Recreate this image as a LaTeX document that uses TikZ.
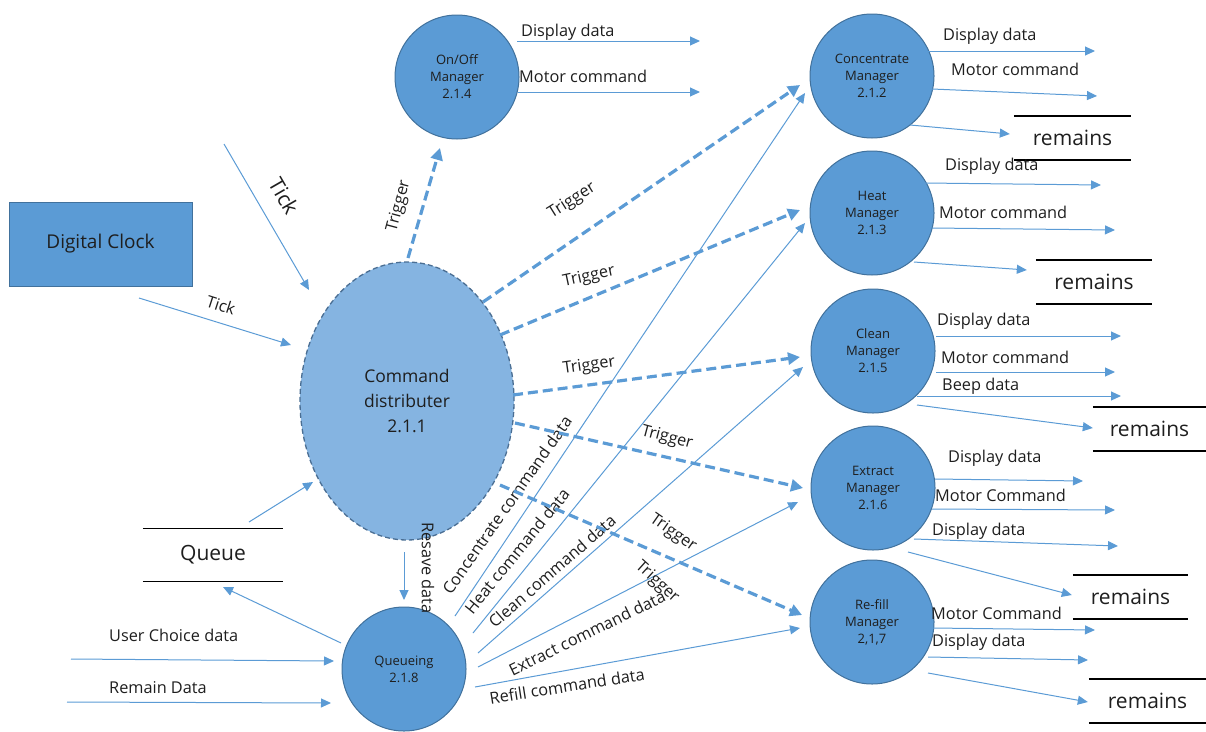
\documentclass[tikz,border=0pt]{standalone}
\usepackage{fontspec}
\setmainfont{Open Sans}
\usetikzlibrary{arrows.meta,shapes.geometric,calc}
\definecolor{cfill}{HTML}{5B9BD5}
\definecolor{cborder}{HTML}{41719C}
\definecolor{cdfill}{HTML}{85B4E1}
\definecolor{cdborder}{HTML}{4A6E93}
\definecolor{arr}{HTML}{5B9BD5}
\definecolor{txt}{HTML}{1E1E1E}
\begin{document}
\begin{tikzpicture}[x=1pt,y=-1pt,text=txt,
  proc/.style={circle, draw=cborder, line width=1pt, fill=cfill, minimum size=124pt, inner sep=0pt, align=center, font=\fontsize{13}{17}\selectfont},
  flow/.style={draw=arr, line width=1pt, -{Triangle[length=10pt,width=9pt]}},
  trig/.style={draw=arr, line width=3.2pt, dash pattern=on 10pt off 5pt, -{Triangle[length=12pt,width=12pt]}},
  lbl/.style={inner sep=0pt, font=\fontsize{16.3}{19}\selectfont},
  store/.style={minimum height=44pt, inner sep=0pt, font=\fontsize{21}{24}\selectfont},
  storeline/.style={draw=black, line width=1.5pt}]
\useasboundingbox (0,0) rectangle (1206,731);

% processes
\node[proc] (oo) at (457,77) {On/Off\\Manager\\2.1.4};
\node[proc] (cm) at (872,76) {Concentrate\\Manager\\2.1.2};
\node[proc] (hm) at (872,213) {Heat\\Manager\\2.1.3};
\node[proc] (clm) at (873,351) {Clean\\Manager\\2.1.5};
\node[proc] (em) at (873,488) {Extract\\Manager\\2.1.6};
\node[proc] (rm) at (872,622) {Re-fill\\Manager\\2,1,7};
\node[proc] (qn) at (404,669) {Queueing\\2.1.8};
\node[ellipse, draw=cdborder, dash pattern=on 5pt off 3pt, line width=1.3pt, fill=cdfill,
  minimum width=214pt, minimum height=278pt, inner sep=0pt, align=center,
  font=\fontsize{17.5}{25}\selectfont] (cd) at (407,401) {Command\\distributer\\2.1.1};
\node[rectangle, draw=cborder, fill=cfill, line width=1pt, minimum width=183pt, minimum height=84pt,
  font=\fontsize{19}{22}\selectfont] (dc) at (100.5,244) {Digital Clock};

% stores
\node[store, minimum width=140pt, minimum height=53pt] (qs) at (213,555) {Queue};
\node[store, minimum width=117pt] (r1) at (1072.5,138) {remains};
\node[store, minimum width=116pt] (r2) at (1094,282) {remains};
\node[store, minimum width=113pt] (r3) at (1149.5,429) {remains};
\node[store, minimum width=115pt] (r4) at (1130.5,597) {remains};
\node[store, minimum width=117pt] (r5) at (1147.5,701) {remains};
\foreach \s in {qs,r1,r2,r3,r4,r5}
  \draw[storeline] (\s.north west) -- (\s.north east) (\s.south west) -- (\s.south east);

% On/Off outputs
\coordinate (o1) at (700,41);
\coordinate (o2) at (700,92);
\draw[flow] ($(oo)+(60,-36)$) -- (o1);
\draw[flow] ($(oo)+(61,15)$) -- (o2);
\node[lbl, anchor=base west] (lo1) at (521,36) {Display data};
\node[lbl, anchor=base west] (lo2) at (519,82) {Motor command};

% Concentrate outputs
\coordinate (c1) at (1095,51);
\coordinate (c2) at (1097,96);
\draw[flow] ($(cm)+(56,-25)$) -- (c1);
\draw[flow] ($(cm)+(60,13)$) -- (c2);
\draw[flow] ($(cm)+(38,49)$) -- ($(r1.west)+(-4,-4)$);
\node[lbl, anchor=base west] (lc1) at (943,40) {Display data};
\node[lbl, anchor=base west] (lc2) at (951,75) {Motor command};

% Heat outputs
\coordinate (h1) at (1101,185);
\coordinate (h2) at (1115,230);
\draw[flow] ($(hm)+(53,-30)$) -- (h1);
\draw[flow] ($(hm)+(60,15)$) -- (h2);
\draw[flow] ($(hm)+(42,49)$) -- ($(r2.west)+(-9,-12)$);
\node[lbl, anchor=base west] (lh1) at (945,170) {Display data};
\node[lbl, anchor=base west] (lh2) at (939,218) {Motor command};

% Clean outputs
\coordinate (k1) at (1121,336);
\coordinate (k2) at (1115,372);
\coordinate (k3) at (1121,396);
\draw[flow] ($(clm)+(63,-15)$) -- (k1);
\draw[flow] ($(clm)+(63,21)$) -- (k2);
\draw[flow] ($(clm)+(44,45)$) -- (k3);
\draw[flow] ($(clm)+(44,54)$) -- ($(r3.west)+(0,-1)$);
\node[lbl, anchor=base west] (lk1) at (937,325) {Display data};
\node[lbl, anchor=base west] (lk2) at (941,363) {Motor command};
\node[lbl, anchor=base west] (lk3) at (942,390) {Beep data};

% Extract outputs
\coordinate (x1) at (1083,481);
\coordinate (x2) at (1115,510);
\coordinate (x3) at (1118,546);
\draw[flow] ($(em)+(62,-9)$) -- (x1);
\draw[flow] ($(em)+(59,21)$) -- (x2);
\draw[flow] ($(em)+(41,51)$) -- (x3);
\draw[flow] ($(em)+(35,64)$) -- ($(r4.west)+(-1,-2)$);
\node[lbl, anchor=base west] (lx1) at (948,462) {Display data};
\node[lbl, anchor=base west] (lx2) at (935,501) {Motor Command};
\node[lbl, anchor=base west] (lx3) at (932,535) {Display data};

% Refill outputs
\coordinate (f1) at (1095,630);
\coordinate (f2) at (1088,660);
\draw[flow] ($(rm)+(61,6)$) -- (f1);
\draw[flow] ($(rm)+(56,35)$) -- (f2);
\draw[flow] ($(rm)+(56,51)$) -- ($(r5.west)+(-1,1)$);
\node[lbl, anchor=base west] (lf1) at (931,619) {Motor Command};
\node[lbl, anchor=base west] (lf2) at (932,646) {Display data};

% Ticks
\coordinate (t0) at (224,144);
\draw[flow] (t0) -- ($(cd)+(-98,-111)$);
\draw[flow] ($(dc)+(38.5,54)$) -- ($(cd)+(-116,-56)$);
\node[inner sep=0pt, font=\fontsize{21}{24}\selectfont, rotate=-60] (lt1) at (284,196) {Tick};
\node[lbl, rotate=-18] (lt2) at (221,305) {Tick};

% Queue store and queueing
\draw[flow] ($(qs)+(36,-33)$) -- ($(cd)+(-94,81)$);
\draw[flow] ($(qn)+(-63,-26)$) -- ($(qs)+(10,32)$);
\coordinate (u0) at (71,659);
\coordinate (m0) at (67,702);
\draw[flow] (u0) -- ($(qn)+(-70,-8)$);
\draw[flow] (m0) -- ($(qn)+(-73,34)$);
\node[lbl, anchor=base west] (lu) at (109,641) {User Choice data};
\node[lbl, anchor=base west] (lm) at (109,693) {Remain Data};
\draw[flow] ($(cd)+(-3,151)$) -- ($(qn)+(0,-69)$);
\node[lbl, rotate=-90] (lr) at (428,568) {Resave data};

% command data
\draw[flow] ($(qn)+(51,-53)$) -- ($(cm)+(-67,17)$);
\draw[flow] ($(qn)+(69,-36)$) -- ($(hm)+(-67,10)$);
\draw[flow] ($(qn)+(74,-16)$) -- ($(clm)+(-70,16)$);
\draw[flow] ($(qn)+(74,-2)$) -- ($(em)+(-75,14)$);
\draw[flow] ($(qn)+(71,18)$) -- ($(rm)+(-72,6)$);
\node[lbl, rotate=55] (lq1) at (507,505) {Concentrate command data};
\node[lbl, rotate=51] (lq2) at (517,551) {Heat command data};
\node[lbl, rotate=41] (lq3) at (552,571) {Clean command data};
\node[lbl, rotate=26] (lq4) at (587,633) {Extract command data};
\node[lbl, rotate=9] (lq5) at (567,686) {Refill command data};

% triggers
\draw[trig] ($(cd)+(1,-143)$) -- ($(oo)+(-17,71)$);
\draw[trig] ($(cd)+(76,-99)$) -- ($(cm)+(-72,9)$);
\draw[trig] ($(cd)+(93,-66)$) -- ($(hm)+(-72,-3)$);
\draw[trig] ($(cd)+(106,-6)$) -- ($(clm)+(-73,6)$);
\draw[trig] ($(cd)+(108,22)$) -- ($(em)+(-70,0)$);
\draw[trig] ($(cd)+(93,84)$) -- ($(rm)+(-70,-7)$);
\node[lbl, rotate=75] (lg1) at (399,206) {Trigger};
\node[lbl, rotate=32] (lg2) at (572,201) {Trigger};
\node[lbl, rotate=12] (lg3) at (589,277) {Trigger};
\node[lbl, rotate=8] (lg4) at (589,366) {Trigger};
\node[lbl, rotate=-15] (lg5) at (667,438) {Trigger};
\node[lbl, rotate=-35] (lg6) at (673,533) {Trigger};
\node[lbl, rotate=-42] (lg7) at (657,582) {Trigger};
\end{tikzpicture}
\end{document}
